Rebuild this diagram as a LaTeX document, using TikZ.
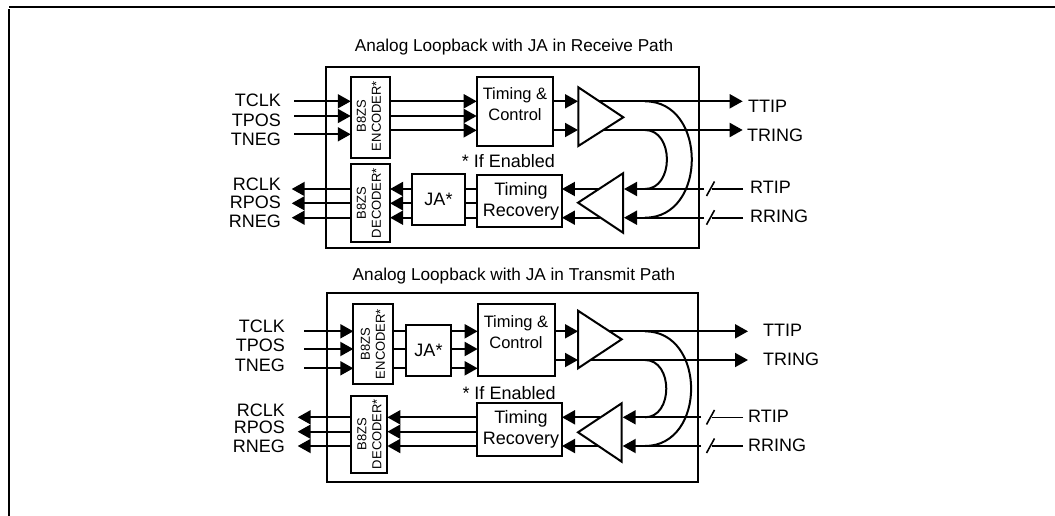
\documentclass[tikz,border=0pt]{standalone}
\usepackage{fontspec}
\setmainfont{Liberation Sans}
\usetikzlibrary{arrows.meta}
\tikzset{
	box/.style={draw, line width=2pt, inner sep=0pt, outer sep=0pt},
	pin/.style={font=\fontsize{18}{21}\selectfont, inner sep=0pt},
	title/.style={font=\fontsize{17.2}{20}\selectfont, inner sep=0pt},
	tag/.style={font=\fontsize{16.5}{21}\selectfont, align=center, inner sep=0pt},
	bigtag/.style={font=\fontsize{18}{21}\selectfont, align=center, inner sep=0pt},
	vtag/.style={font=\fontsize{13}{15}\selectfont, align=center, inner sep=0pt, rotate=90},
	sig/.style={line width=2pt, -{Triangle[length=13pt,width=14pt]}},
	wire/.style={line width=2pt},
	bus/.style={line width=1.6pt},
	amp/.style={draw, line width=2pt, fill=white}
}
\begin{document}
\begin{tikzpicture}[x=1pt,y=-1pt]
\useasboundingbox (0,0) rectangle (1055,516);
% page frame
\coordinate (frameA) at (9,7.5);
\coordinate (frameB) at (1055,7.5);
\coordinate (frameC) at (8.5,9.5);
\coordinate (frameD) at (8.5,516);
\draw[line width=2pt] (frameA) -- (frameB);
\draw[line width=2pt] (frameC) -- (frameD);

% receive path
\begin{scope}
	\node[title] (titleA) at (514,46.7) {Analog Loopback with JA in Receive Path};
	\node[box, minimum width=373pt, minimum height=181pt] (panelA) at (512.5,157.5) {};
	\node[box, minimum width=39.3pt, minimum height=80.7pt] (encA) at (370.4,117.7) {};
	\node[box, minimum width=39.3pt, minimum height=78pt] (decA) at (370.4,203) {};
	\node[box, minimum width=76.6pt, minimum height=68.4pt] (tcA) at (515,111.5) {};
	\node[box, minimum width=53.6pt, minimum height=51pt, font=\fontsize{18}{21}\selectfont] (jaA) at (438.5,199.5) {JA*};
	\node[box, minimum width=85.3pt, minimum height=52pt] (trA) at (519.3,201) {};
	\node[vtag] (encTextA) at (369,116) {B8ZS\\ENCODER*};
	\node[vtag] (decTextA) at (369,203) {B8ZS\\DECODER*};
	\node[tag] (tcTextA) at (515,104.5) {Timing \&\\Control};
	\node[bigtag] (trTextA) at (521,201.5) {Timing\\Recovery};
	\node[bigtag, anchor=west] (noteA) at (461.7,161) {* If Enabled};

	\node[pin, anchor=east] (tclkA) at (281,100.7) {TCLK};
	\node[pin, anchor=east] (tposA) at (281,120) {TPOS};
	\node[pin, anchor=east] (tnegA) at (281,139.3) {TNEG};
	\node[pin, anchor=east] (rclkA) at (281,184.7) {RCLK};
	\node[pin, anchor=east] (rposA) at (281,202.7) {RPOS};
	\node[pin, anchor=east] (rnegA) at (281,221.7) {RNEG};
	\node[pin, anchor=west] (ttipA) at (748,106.7) {TTIP};
	\node[pin, anchor=west] (tringA) at (747,135.3) {TRING};
	\node[pin, anchor=west] (rtipA) at (750,187) {RTIP};
	\node[pin, anchor=west] (rringA) at (750,216) {RRING};

	\coordinate (inA1) at (294,101.3);
	\coordinate (inA2) at (294,116);
	\coordinate (inA3) at (294,134.3);
	\coordinate (outA1) at (291.7,189);
	\coordinate (outA2) at (291.7,203.3);
	\coordinate (outA3) at (291.7,217.7);
	\coordinate (encOutA1) at (390,101.3);
	\coordinate (encOutA2) at (390,116);
	\coordinate (encOutA3) at (390,130.3);
	\coordinate (txA1) at (578,101.3);
	\coordinate (txA2) at (578,130);
	\coordinate (ttipEndA) at (742.7,101.3);
	\coordinate (tringEndA) at (742.7,130);
	\coordinate (bendA1) at (645,101.3);
	\coordinate (bendA2) at (645,130);
	\coordinate (bendA3) at (645,189);
	\coordinate (bendA4) at (645,217.7);
	\coordinate (rxA1) at (624,189);
	\coordinate (rxA2) at (624,217.7);
	\coordinate (rxInA1) at (600,189);
	\coordinate (rxInA2) at (600,217.7);
	\coordinate (rtipGapA) at (704,189);
	\coordinate (rringGapA) at (704,217.7);
	\coordinate (rtipWireA) at (743,189);
	\coordinate (rringWireA) at (743,217.7);
	\coordinate (rtipBarA) at (712,189);
	\coordinate (rringBarA) at (712,217.7);
	\coordinate (rtipSlashA) at (706.5,196);
	\coordinate (rtipSlashB) at (714.5,181.5);
	\coordinate (rringSlashA) at (706.5,224.7);
	\coordinate (rringSlashB) at (714.5,210.2);

	\draw[sig] (inA1) -- (encA.west |- inA1);
	\draw[sig] (inA2) -- (encA.west |- inA2);
	\draw[sig] (inA3) -- (encA.west |- inA3);
	\draw[sig] (encOutA1) -- (tcA.west |- encOutA1);
	\draw[sig] (encOutA2) -- (tcA.west |- encOutA2);
	\draw[sig] (encOutA3) -- (tcA.west |- encOutA3);
	\draw[sig] (tcA.east |- txA1) -- (txA1);
	\draw[sig] (tcA.east |- txA2) -- (txA2);
	\draw[sig] (txA1) -- (ttipEndA);
	\draw[sig] (txA2) -- (tringEndA);
	\draw[wire] (bendA1) to[out=0,in=0,looseness=1.375] (bendA4);
	\draw[wire] (bendA2) to[out=0,in=0,looseness=1.27] (bendA3);
	\draw[sig] (rtipGapA) -- (rxA1);
	\draw[sig] (rringGapA) -- (rxA2);
	\draw[sig] (rxInA1) -- (trA.east |- rxInA1);
	\draw[sig] (rxInA2) -- (trA.east |- rxInA2);
	\draw[wire] (trA.west |- outA1) -- (jaA.east |- outA1);
	\draw[wire] (trA.west |- outA2) -- (jaA.east |- outA2);
	\draw[wire] (trA.west |- outA3) -- (jaA.east |- outA3);
	\draw[sig] (jaA.west |- outA1) -- (decA.east |- outA1);
	\draw[sig] (jaA.west |- outA2) -- (decA.east |- outA2);
	\draw[sig] (jaA.west |- outA3) -- (decA.east |- outA3);
	\draw[sig] (decA.west |- outA1) -- (outA1);
	\draw[sig] (decA.west |- outA2) -- (outA2);
	\draw[sig] (decA.west |- outA3) -- (outA3);
	\draw[bus] (rtipWireA) -- (rtipBarA);
	\draw[bus] (rringWireA) -- (rringBarA);
	\draw[bus] (rtipSlashA) -- (rtipSlashB);
	\draw[bus] (rringSlashA) -- (rringSlashB);

	\coordinate (txTopA) at (578.3,87.3);
	\coordinate (txBotA) at (578.3,146);
	\coordinate (txTipA) at (623.3,117.3);
	\coordinate (rxTopA) at (623,173.3);
	\coordinate (rxBotA) at (623,232.7);
	\coordinate (rxTipA) at (578,202.7);
	\draw[amp] (txTopA) -- (txBotA) -- (txTipA) -- cycle;
	\draw[amp] (rxTopA) -- (rxBotA) -- (rxTipA) -- cycle;
\end{scope}

% transmit path
\begin{scope}
	\node[title] (titleB) at (514,276) {Analog Loopback with JA in Transmit Path};
	\node[box, minimum width=371pt, minimum height=188.4pt] (panelB) at (512.2,387.5) {};
	\node[box, minimum width=39.4pt, minimum height=80pt] (encB) at (373,344.3) {};
	\node[box, minimum width=36.3pt, minimum height=77.3pt] (decB) at (369.2,434.6) {};
	\node[box, minimum width=77.3pt, minimum height=71.7pt] (tcB) at (516.3,340.2) {};
	\node[box, minimum width=45pt, minimum height=51pt, font=\fontsize{18}{21}\selectfont] (jaB) at (428.5,350.5) {JA*};
	\node[box, minimum width=85pt, minimum height=52.4pt] (trB) at (519.5,429.5) {};
	\node[vtag] (encTextB) at (373,344) {B8ZS\\ENCODER*};
	\node[vtag] (decTextB) at (369.5,434) {B8ZS\\DECODER*};
	\node[tag] (tcTextB) at (516,332) {Timing \&\\Control};
	\node[bigtag] (trTextB) at (521,429.5) {Timing\\Recovery};
	\node[bigtag, anchor=west] (noteB) at (462.3,392.7) {* If Enabled};

	\node[pin, anchor=east] (tclkB) at (285,326.7) {TCLK};
	\node[pin, anchor=east] (tposB) at (285,345.7) {TPOS};
	\node[pin, anchor=east] (tnegB) at (285,365) {TNEG};
	\node[pin, anchor=east] (rclkB) at (285,410) {RCLK};
	\node[pin, anchor=east] (rposB) at (285,427.7) {RPOS};
	\node[pin, anchor=east] (rnegB) at (285,446.7) {RNEG};
	\node[pin, anchor=west] (ttipB) at (763,330) {TTIP};
	\node[pin, anchor=west] (tringB) at (763,359.3) {TRING};
	\node[pin, anchor=west] (rtipB) at (748,416.7) {RTIP};
	\node[pin, anchor=west] (rringB) at (748,445.3) {RRING};

	\coordinate (inB1) at (304.3,331.3);
	\coordinate (inB2) at (304.3,349);
	\coordinate (inB3) at (304.3,368.3);
	\coordinate (outB1) at (297.7,417.3);
	\coordinate (outB2) at (297.7,431.7);
	\coordinate (outB3) at (297.7,446);
	\coordinate (txB1) at (578,331.3);
	\coordinate (txB2) at (578,360);
	\coordinate (ttipEndB) at (748,331.3);
	\coordinate (tringEndB) at (748,360);
	\coordinate (bendB1) at (645,331.3);
	\coordinate (bendB2) at (645,360);
	\coordinate (bendB3) at (645,417.3);
	\coordinate (bendB4) at (645,446);
	\coordinate (rxB1) at (622.7,417.3);
	\coordinate (rxB2) at (622.7,446);
	\coordinate (rxInB1) at (600,417.3);
	\coordinate (rxInB2) at (600,446);
	\coordinate (rtipGapB) at (701,417.3);
	\coordinate (rringGapB) at (701,446);
	\coordinate (rtipWireB) at (743,417.3);
	\coordinate (rringWireB) at (743,446);
	\coordinate (rtipBarB) at (712,417.3);
	\coordinate (rringBarB) at (712,446);
	\coordinate (rtipSlashC) at (706.5,424.5);
	\coordinate (rtipSlashD) at (714.5,410);
	\coordinate (rringSlashC) at (706.5,453);
	\coordinate (rringSlashD) at (714.5,438.5);

	\draw[sig] (inB1) -- (encB.west |- inB1);
	\draw[sig] (inB2) -- (encB.west |- inB2);
	\draw[sig] (inB3) -- (encB.west |- inB3);
	\draw[wire] (encB.east |- inB1) -- (jaB.west |- inB1);
	\draw[wire] (encB.east |- inB2) -- (jaB.west |- inB2);
	\draw[wire] (encB.east |- inB3) -- (jaB.west |- inB3);
	\draw[sig] (jaB.east |- inB1) -- (tcB.west |- inB1);
	\draw[sig] (jaB.east |- inB2) -- (tcB.west |- inB2);
	\draw[sig] (jaB.east |- inB3) -- (tcB.west |- inB3);
	\draw[sig] (tcB.east |- txB1) -- (txB1);
	\draw[sig] (tcB.east |- txB2) -- (txB2);
	\draw[sig] (txB1) -- (ttipEndB);
	\draw[sig] (txB2) -- (tringEndB);
	\draw[wire] (bendB1) to[out=0,in=0,looseness=1.375] (bendB4);
	\draw[wire] (bendB2) to[out=0,in=0,looseness=1.27] (bendB3);
	\draw[sig] (rtipGapB) -- (rxB1);
	\draw[sig] (rringGapB) -- (rxB2);
	\draw[sig] (rxInB1) -- (trB.east |- rxInB1);
	\draw[sig] (rxInB2) -- (trB.east |- rxInB2);
	\draw[sig] (trB.west |- outB1) -- (decB.east |- outB1);
	\draw[sig] (trB.west |- outB2) -- (decB.east |- outB2);
	\draw[sig] (trB.west |- outB3) -- (decB.east |- outB3);
	\draw[sig] (decB.west |- outB1) -- (outB1);
	\draw[sig] (decB.west |- outB2) -- (outB2);
	\draw[sig] (decB.west |- outB3) -- (outB3);
	\draw[bus] (rtipWireB) -- (rtipBarB);
	\draw[bus] (rringWireB) -- (rringBarB);
	\draw[bus] (rtipSlashC) -- (rtipSlashD);
	\draw[bus] (rringSlashC) -- (rringSlashD);

	\coordinate (txTopB) at (578,310.7);
	\coordinate (txBotB) at (578,368.3);
	\coordinate (txTipB) at (621.7,339.3);
	\coordinate (rxTopB) at (621.7,403.3);
	\coordinate (rxBotB) at (621.7,461.7);
	\coordinate (rxTipB) at (578,432.3);
	\draw[amp] (txTopB) -- (txBotB) -- (txTipB) -- cycle;
	\draw[amp] (rxTopB) -- (rxBotB) -- (rxTipB) -- cycle;
\end{scope}
\end{tikzpicture}
\end{document}
